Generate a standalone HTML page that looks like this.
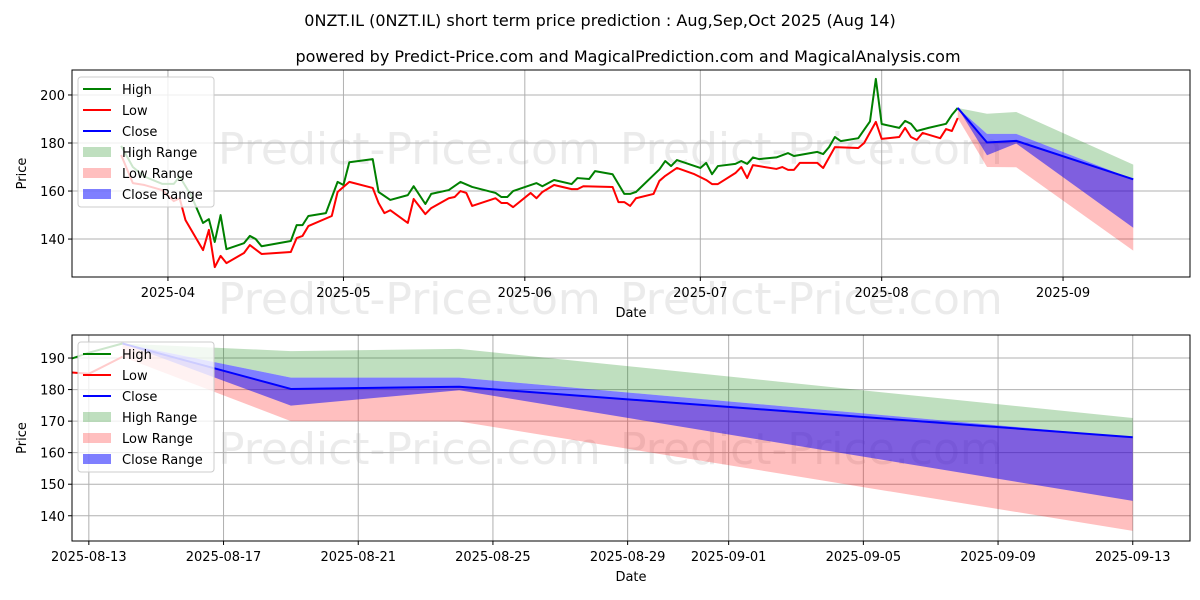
<!DOCTYPE html>
<html><head><meta charset="utf-8">
<style>
body{margin:0;background:#fff;}
svg{display:block;font-family:"DejaVu Sans","Liberation Sans",sans-serif;}
</style></head>
<body>
<svg id="chart" width="1200" height="600" viewBox="0 0 1200 600">
<text x="600" y="26" text-anchor="middle" font-size="16">0NZT.IL (0NZT.IL) short term price prediction : Aug,Sep,Oct 2025 (Aug 14)</text>
<text x="628" y="62" text-anchor="middle" font-size="16">powered by Predict-Price.com and MagicalPrediction.com and MagicalAnalysis.com</text>
</svg>
<script>
// historical data: day offsets from 2025-04-01
const highDays=[-8,-6,-4,-1,1,2,4,6,7,8,9,10,13,14,15,16,21,22,23,24,27,29,30,31,35,36,38,41,42,44,45,48,50,52,56,57,58,59,63,64,66,69,70,72,73,76,78,79,80,84,85,86,87,91,92,93,94,97,98,99,100,101,104,106,107,111,112,113,114,115,118,120,121,122,125,126,127,128,130,133,134,135];
const highVals=[178.8,170,166,163,163,166,158,146.7,148.3,138.8,150,135.8,138.3,141.3,140,137,139.2,145.8,145.8,149.6,150.8,163.8,162.5,172,173.3,159.6,156.3,158.3,162,154.6,158.8,160.4,163.8,161.7,159.2,157.5,157.5,160,163.3,162,164.6,162.9,165.4,165,168.3,167,158.8,158.8,159.6,169,172.5,170.4,172.9,169.6,171.7,167,170.4,171.3,172.5,171.3,174,173.3,174,175.8,174.6,176.3,175.4,178.3,182.5,180.8,182,189,206.7,187.9,186.3,189.2,188,185,186.3,188,191.7,194.6];
const lowDays=[-8,-6,-4,-1,1,2,3,6,7,8,9,10,13,14,16,21,22,23,24,28,29,31,35,36,37,38,41,42,44,45,48,49,50,51,52,56,57,58,59,62,63,64,66,69,70,71,76,77,78,79,80,83,84,85,87,90,92,93,94,97,98,99,100,104,105,106,107,108,111,112,114,118,119,121,122,125,126,127,128,129,132,133,134,135];
const lowVals=[175,163.3,162.5,160.4,155.8,157,147.9,135.4,143.8,128.3,133,130,134.2,137.5,133.8,134.6,140.4,141.3,145.4,149.6,159.6,163.8,161.3,155,150.8,152,146.7,156.7,150.4,152.9,157,157.5,160,159.2,153.8,157,155,155,153.3,159.2,157,159.6,162.5,160.8,160.8,162,161.7,155.4,155.4,153.8,157,158.8,164.2,166.3,169.6,167,164.6,162.9,162.9,167.5,170,165.4,170.8,169.2,170,168.8,168.8,171.7,171.7,169.6,178.3,177.9,180,188.8,181.7,182.5,186.3,182.5,181.3,184.2,182,185.8,185,190.4];
// forecast: day offsets from 2025-04-01 (Aug14, Aug19, Aug24, Sep13)
const fcDays=[135,140,145,165];
const closeVals=[194.6,180.2,180.9,164.9];
const highRangeTop=[194.6,192.2,192.9,171];
const highRangeBot=[194.6,183.8,183.8,164.9];
const lowRangeTop=[194.6,180.2,180.9,164.9];
const lowRangeBot=[190.4,170,169.9,135.2];
const closeRangeTop=[194.6,183.8,183.8,164.9];
const closeRangeBot=[194.6,174.9,179.8,144.7];
const topYTicks=[140,160,180,200];
const topXTicks=[["2025-04",0],["2025-05",30],["2025-06",61],["2025-07",91],["2025-08",122],["2025-09",153]];
const botYTicks=[140,150,160,170,180,190];
const botXTicks=[["2025-08-13",134],["2025-08-17",138],["2025-08-21",142],["2025-08-25",146],["2025-08-29",150],["2025-09-01",153],["2025-09-05",157],["2025-09-09",161],["2025-09-13",165]];

const NS="http://www.w3.org/2000/svg";
const svg=document.getElementById('chart');
function mk(tag,attrs,parent){const e=document.createElementNS(NS,tag);for(const k in attrs)e.setAttribute(k,attrs[k]);(parent||svg).appendChild(e);return e;}

function panel(o){
  const g=mk('g',{});
  
  
  const x=d=>o.x0+(d-o.d0)/(o.d1-o.d0)*(o.x1-o.x0);
  const y=v=>o.y1-(v-o.v0)/(o.v1-o.v0)*(o.y1-o.y0);
  const cid='clip'+o.name;
  const cp=mk('clipPath',{id:cid},g);mk('rect',{x:o.x0,y:o.y0,width:o.x1-o.x0,height:o.y1-o.y0},cp);
  // watermarks
  o.wm.forEach(w=>{const t=mk('text',{x:w[0],y:w[1],'font-size':44,fill:'#e6e6e6','fill-opacity':0.8},g);t.textContent='Predict-Price.com';
    });
  // grid
  o.yt.forEach(v=>{mk('line',{x1:o.x0,x2:o.x1,y1:y(v),y2:y(v),stroke:'#b0b0b0','stroke-width':1},g);
    mk('line',{x1:o.x0-4,x2:o.x0,y1:y(v),y2:y(v),stroke:'#000'},g);
    const t=mk('text',{x:o.x0-7,y:y(v)+5,'text-anchor':'end','font-size':13},g);t.textContent=v;
    });
  o.xt.forEach(tk=>{const xx=x(tk[1]);mk('line',{x1:xx,x2:xx,y1:o.y0,y2:o.y1,stroke:'#b0b0b0','stroke-width':1},g);
    mk('line',{x1:xx,x2:xx,y1:o.y1,y2:o.y1+4,stroke:'#000'},g);
    const t=mk('text',{x:xx,y:o.y1+20,'text-anchor':'middle','font-size':13},g);t.textContent=tk[0];
    });
  const d=mk('g',{'clip-path':'url(#'+cid+')'},g);
  function band(top,bot,col,op,nm){let p=fcDays.map((dd,i)=>x(dd)+','+y(top[i]));
    for(let i=fcDays.length-1;i>=0;i--)p.push(x(fcDays[i])+','+y(bot[i]));
    const e=mk('polygon',{points:p.join(' '),fill:col,'fill-opacity':op},d);
    }
  band(highRangeTop,highRangeBot,'#008000',0.25,'high-range-band');
  band(lowRangeTop,lowRangeBot,'#ff0000',0.25,'low-range-band');
  band(closeRangeTop,closeRangeBot,'#0000ff',0.5,'close-range-band');
  function line(ds,vs,col,nm){const e=mk('polyline',{points:ds.map((dd,i)=>x(dd)+','+y(vs[i])).join(' '),fill:'none',stroke:col,'stroke-width':2,'stroke-linejoin':'round'},d);
    }
  line(highDays,highVals,'#008000','high-line');
  line(lowDays,lowVals,'#ff0000','low-line');
  line(fcDays,closeVals,'#0000ff','close-line');
  mk('rect',{x:o.x0,y:o.y0,width:o.x1-o.x0,height:o.y1-o.y0,fill:'none',stroke:'#000','stroke-width':1},g);
  const xl=mk('text',{x:(o.x0+o.x1)/2,y:o.y1+40,'text-anchor':'middle','font-size':13},g);xl.textContent='Date';
  
  const yl=mk('text',{x:0,y:0,'text-anchor':'middle','font-size':13,transform:'translate(26,'+((o.y0+o.y1)/2)+') rotate(-90)'},g);yl.textContent='Price';
  
  // legend
  const lg=mk('g',{},g);
  
  const lx=o.x0+6,ly=o.y0+7;
  mk('rect',{x:lx,y:ly,width:136,height:130,rx:3,fill:'#fff','fill-opacity':0.8,stroke:'#cccccc'},lg);
  const items=[['High','line','#008000',1],['Low','line','#ff0000',1],['Close','line','#0000ff',1],['High Range','box','#008000',0.25],['Low Range','box','#ff0000',0.25],['Close Range','box','#0000ff',0.5]];
  items.forEach((it,i)=>{const cy=ly+12+i*21;
    if(it[1]=='line')mk('line',{x1:lx+5,x2:lx+33,y1:cy,y2:cy,stroke:it[2],'stroke-width':2},lg);
    else mk('rect',{x:lx+5,y:cy-5,width:28,height:10,fill:it[2],'fill-opacity':it[3]},lg);
    const t=mk('text',{x:lx+44,y:cy+5,'font-size':13},lg);t.textContent=it[0];
    });
}
panel({name:'top-panel',x0:72,x1:1190,y0:70,y1:277,d0:-16.4,d1:174.7,v0:124.2,v1:210.4,yt:topYTicks,xt:topXTicks,wm:[[218,164],[620,164],[218,314],[620,314]]});
panel({name:'bottom-panel',x0:72,x1:1190,y0:335,y1:541,d0:133.5,d1:166.7,v0:132,v1:197.3,yt:botYTicks,xt:botXTicks,wm:[[218,464],[620,464]]});
</script>
</body></html>
